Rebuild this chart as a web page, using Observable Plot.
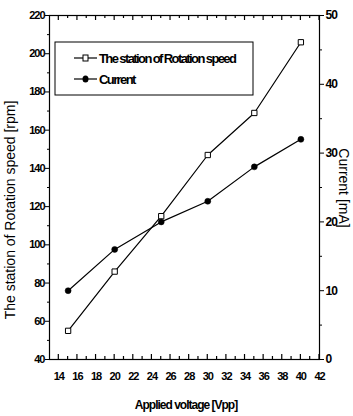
<!DOCTYPE html>
<html>
<head>
<meta charset="utf-8">
<script src="https://cdn.jsdelivr.net/npm/d3@7"></script>
<script src="https://cdn.jsdelivr.net/npm/@observablehq/plot@0.6"></script>
<style>
  html, body { margin: 0; padding: 0; background: #fff; }
  #chart svg { display: block; }
  #chart svg g[aria-label$="tick label"] text { letter-spacing: -1px; }
</style>
</head>
<body>
<div id="chart"></div>
<script>
// Data
const voltage = [15, 20, 25, 30, 35, 40];          // Applied voltage [Vpp]
const speed   = [55, 86, 115, 147, 169, 206];      // Rotation speed [rpm]
const current = [10, 16, 20, 23, 28, 32];          // Current [mA]

const xTicks = [14, 16, 18, 20, 22, 24, 26, 28, 30, 32, 34, 36, 38, 40, 42];
const leftTicks = [40, 60, 80, 100, 120, 140, 160, 180, 200, 220];
const rightTicks = [0, 10, 20, 30, 40, 50];

const seriesNames = ["The station of Rotation speed", "Current"];

// right axis (current) mapped onto the left (rpm) scale
const yMin = 40, yMax = 220, cMax = 50;
const toRpm = c => yMin + c * (yMax - yMin) / cMax;

const speedData = voltage.map((v, i) => ({v, y: speed[i]}));
const currentData = voltage.map((v, i) => ({v, y: toRpm(current[i])}));

const W = 353, H = 416;
const mL = 49, mR = 34, mT = 15, mB = 57;

const xMinor = d3.range(14, 43, 1).filter(d => d % 2 === 1);
const leftMinor = leftTicks.slice(0, -1).map(d => d + 10);
const rightMinor = rightTicks.slice(0, -1).map(d => toRpm(d + 5));

const tickFont = "'Liberation Sans Narrow', 'Liberation Sans', Arial, sans-serif";

const plot = Plot.plot({
  width: W,
  height: H,
  marginLeft: mL,
  marginRight: mR,
  marginTop: mT,
  marginBottom: mB,
  style: {fontFamily: tickFont, fontSize: "11px", color: "#000", background: "#fff"},
  x: {domain: [13, 42]},
  y: {domain: [yMin, yMax]},
  marks: [
    Plot.frame({stroke: "#000", strokeWidth: 1.2}),
    Plot.axisX(xTicks, {anchor: "bottom", tickSize: 0, tickPadding: 13, label: null, fontSize: 11, fontWeight: "bold"}),
    Plot.axisY(leftTicks, {anchor: "left", tickSize: 4, tickPadding: 1, label: null, fontSize: 11, fontWeight: "bold"}),
    Plot.axisY(leftMinor, {anchor: "left", tickSize: 2, tickFormat: () => "", label: null}),
    Plot.axisY(rightTicks.map(toRpm), {anchor: "right", tickSize: 4, tickPadding: 2, label: null, fontSize: 12, fontWeight: "bold",
      tickFormat: d => String(Math.round((d - yMin) * cMax / (yMax - yMin)))}),
    Plot.axisY(rightMinor, {anchor: "right", tickSize: 2, tickFormat: () => "", label: null}),
    Plot.line(speedData, {x: "v", y: "y", stroke: "#000", strokeWidth: 1.2}),
    Plot.line(currentData, {x: "v", y: "y", stroke: "#000", strokeWidth: 1.2}),
    Plot.dot(speedData, {x: "v", y: "y", symbol: "square", r: 3, fill: "#fff", stroke: "#000", strokeWidth: 1}),
    Plot.dot(currentData, {x: "v", y: "y", symbol: "circle", r: 3, fill: "#000", stroke: "#000", strokeWidth: 0.5})
  ]
});

document.getElementById("chart").appendChild(plot);

const svg = d3.select(plot);
const titleFont = "'Liberation Sans', Arial, sans-serif";
const xs = plot.scale("x");
const yTop = mT, yBot = H - mB;

// inward ticks on the bottom and top frame edges, placed through Plot's x scale
const tg = svg.append("g");
function tick(px, y1, y2) {
  tg.append("line").attr("x1", px).attr("x2", px).attr("y1", y1).attr("y2", y2)
    .attr("stroke", "#000").attr("stroke-width", 1.2);
}
xTicks.forEach(d => {
  const px = xs.apply(d);
  tick(px, yBot, yBot - 5);
  tick(px, yTop, yTop + 5);
});
xMinor.forEach(d => {
  const px = xs.apply(d);
  tick(px, yBot, yBot - 3);
  tick(px, yTop, yTop + 3);
});

// Axis titles
svg.append("text")
  .attr("transform", `translate(15, 210) rotate(-90)`)
  .attr("text-anchor", "middle")
  .attr("font-family", titleFont)
  .attr("font-size", 14)
  .attr("fill", "#000")
  .text("The station of Rotation speed [rpm]");

svg.append("text")
  .attr("transform", `translate(339, 188) rotate(90)`)
  .attr("text-anchor", "middle")
  .attr("font-family", titleFont)
  .attr("font-size", 14)
  .attr("fill", "#000")
  .text("Current [mA]");

svg.append("text")
  .attr("x", 186)
  .attr("y", 409)
  .attr("text-anchor", "middle")
  .attr("font-family", tickFont)
  .attr("font-size", 12)
  .attr("font-weight", "bold")
  .attr("letter-spacing", "-1")
  .attr("fill", "#000")
  .text("Applied voltage [Vpp]");

// Legend
const lg = svg.append("g");
lg.append("rect").attr("x", 55).attr("y", 42).attr("width", 198).attr("height", 53)
  .attr("fill", "#fff").attr("stroke", "#000").attr("stroke-width", 1);
const rows = [{y: 58, name: seriesNames[0], type: "square"}, {y: 79, name: seriesNames[1], type: "circle"}];
rows.forEach(r => {
  lg.append("line").attr("x1", 74).attr("x2", 97).attr("y1", r.y).attr("y2", r.y)
    .attr("stroke", "#000").attr("stroke-width", 1.2);
  if (r.type === "square") {
    lg.append("rect").attr("x", 83).attr("y", r.y - 3).attr("width", 5).attr("height", 6)
      .attr("fill", "#fff").attr("stroke", "#000").attr("stroke-width", 1);
  } else {
    lg.append("ellipse").attr("cx", 85.5).attr("cy", r.y).attr("rx", 3).attr("ry", 3.5).attr("fill", "#000");
  }
  lg.append("text").attr("x", 99).attr("y", r.y).attr("dy", "0.35em")
    .attr("text-anchor", "start")
    .attr("font-family", tickFont).attr("font-size", 13).attr("font-weight", "bold")
    .attr("letter-spacing", "-1.6")
    .attr("fill", "#000")
    .text(r.name);
});
</script>
</body>
</html>
